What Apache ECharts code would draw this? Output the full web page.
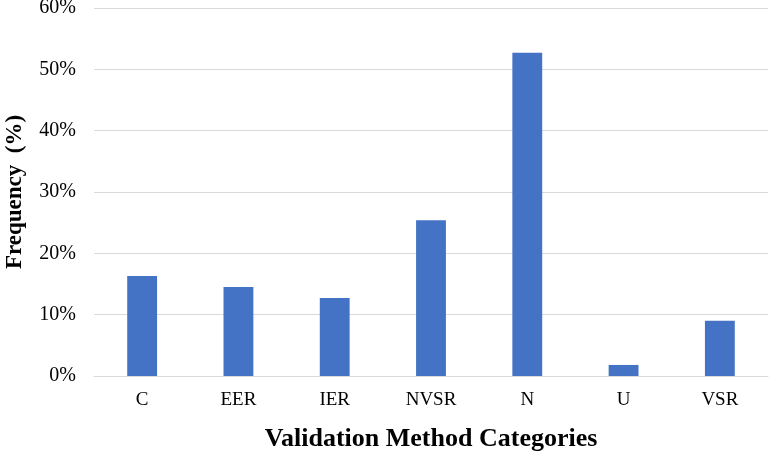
<!DOCTYPE html>
<html><head><meta charset="utf-8">
<script src="https://cdn.jsdelivr.net/npm/echarts@6/dist/echarts.min.js"></script>
<style>html,body{margin:0;padding:0;background:#fff}#c{width:770px;height:456px}</style>
</head><body><div id="c"></div>
<script>
const categories = ['C','EER','IER','NVSR','N','U','VSR'];
const frequency = [16.3, 14.5, 12.7, 25.4, 52.7, 1.8, 9.0];
const yTicks = [0,10,20,30,40,50,60];
const chart = echarts.init(document.getElementById('c'));
const font = '"Liberation Serif","Times New Roman",serif';
chart.setOption({
  animation:false,
  grid:{left:94,right:2,top:8,bottom:80,containLabel:false,outerBoundsMode:'none'},
  xAxis:{type:'category',data:categories,
    axisLine:{lineStyle:{color:'#d9d9d9',width:1}},axisTick:{show:false},
    axisLabel:{color:'#000',fontFamily:font,fontSize:19,margin:15},
    name:'Validation Method Categories',nameLocation:'middle',nameGap:50,
    nameTextStyle:{color:'#000',fontFamily:font,fontSize:26,fontWeight:'bold'}},
  yAxis:{type:'value',min:yTicks[0],max:yTicks[yTicks.length-1],interval:10,
    axisLine:{show:false},axisTick:{show:false},
    splitLine:{lineStyle:{color:'#d9d9d9',width:1}},
    axisLabel:{color:'#000',fontFamily:font,fontSize:20,margin:18,formatter:'{value}%'},
    name:'Frequency  (%)',nameLocation:'middle',nameGap:67,
    nameTextStyle:{color:'#000',fontFamily:font,fontSize:23,fontWeight:'bold'}},
  series:[{type:'bar',data:frequency,barWidth:'31%',itemStyle:{color:'#4472c4'}}]
});
</script></body></html>
